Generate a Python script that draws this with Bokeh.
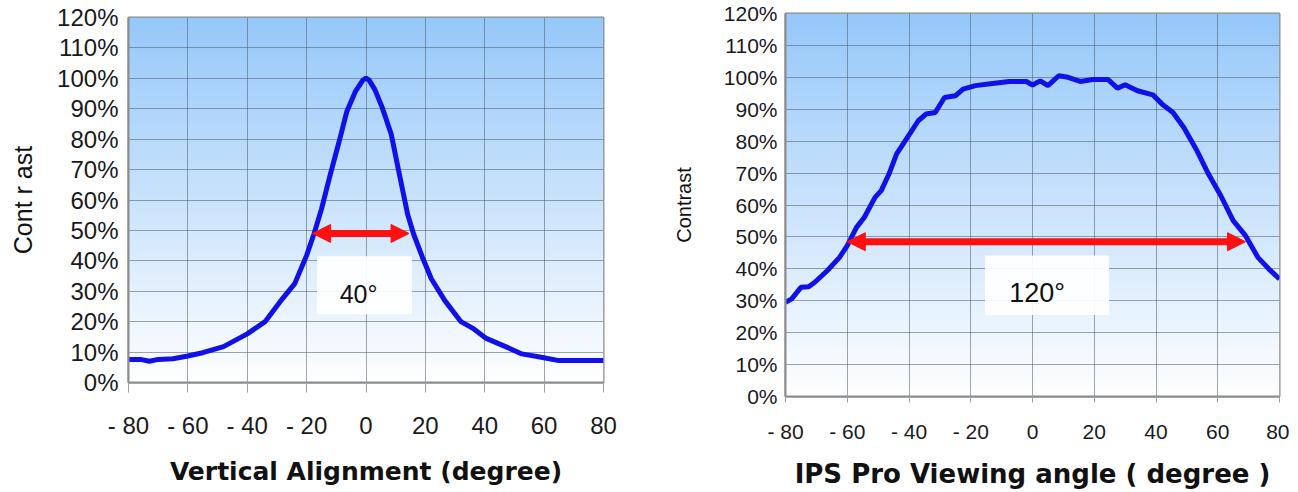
import numpy as np
from bokeh.plotting import figure
from bokeh.layouts import row, column
from bokeh.models import Range1d, FixedTicker, Arrow, NormalHead
from bokeh.embed import file_html
from bokeh.resources import INLINE
from bokeh.core.properties import value

# ---------------- data ----------------
va_angle = [-80, -76, -73, -70, -65, -60, -55, -48, -40, -34, -29, -24, -20, -17.5, -15,
            -12, -9, -6.5, -3.5, -1, 0, 1, 3, 5.5, 8.5, 11, 14, 16, 19, 22, 26.5, 32, 36,
            40.5, 47, 52.5, 59, 65, 70, 80]
va_contrast = [7.6, 7.6, 7.0, 7.6, 7.8, 8.7, 9.8, 11.8, 16.0, 20.0, 26.5, 32.5, 41.8, 48.9, 57.0,
               68.5, 79.4, 89.0, 95.8, 99.5, 100.0, 99.5, 96.3, 90.3, 81.6, 69.6, 55.4, 48.9, 41.2,
               34.1, 27.0, 20.0, 17.8, 14.5, 11.8, 9.4, 8.3, 7.2, 7.2, 7.2]

ips_angle = [-80, -78, -75, -72.5, -70.5, -66.5, -62.5, -60, -57, -54.5, -51, -49, -46.5, -44,
             -40.5, -37, -34.5, -31.5, -28.5, -25, -22.5, -18.5, -13, -7.5, -2, 0, 2.5, 5, 8.5,
             11.5, 15.5, 19.5, 24.5, 27.5, 30, 34, 39, 42, 45.5, 49, 53, 57, 61, 65, 69, 73,
             76.5, 80]
ips_contrast = [29.5, 30.6, 34.2, 34.4, 35.8, 39.4, 43.6, 47.3, 53.0, 56.1, 62.4, 64.5, 69.7, 76.0,
                81.2, 86.4, 88.5, 89.0, 93.7, 94.2, 96.3, 97.4, 98.1, 98.7, 98.7, 97.6, 98.9, 97.4,
                100.5, 100.0, 98.7, 99.3, 99.3, 96.6, 97.7, 95.8, 94.5, 91.6, 89.0, 84.3, 77.5, 69.7,
                62.9, 55.1, 50.4, 43.6, 40.0, 36.8]

x_ticks = [-80, -60, -40, -20, 0, 20, 40, 60, 80]
x_tick_labels = ["- 80", "- 60", "- 40", "- 20", "0", "20", "40", "60", "80"]
y_ticks = [0, 10, 20, 30, 40, 50, 60, 70, 80, 90, 100, 110, 120]
y_tick_labels = ["0%", "10%", "20%", "30%", "40%", "50%", "60%", "70%", "80%", "90%", "100%", "110%", "120%"]

# annotations: arrow (x_start, x_end, y), box (left, right, bottom, top), label (x, y, text)
va_arrow = [-18, 14.5, 49]
va_box = [-16.5, 15.5, 22.4, 41.5]
va_label = [-2.5, 29, "40°"]
ips_arrow = [-60, 69, 48.5]
ips_box = [-15.4, 24.8, 25.5, 44.2]
ips_label = [1.5, 32.3, "120°"]

# background gradient (style)
H = 240
t = np.linspace(0, 1, H)
top_c = np.array([150, 200, 250])
bot_c = np.array([255, 255, 255])
rgba = np.zeros((H, 1, 4), dtype=np.uint8)
for i in range(H):
    c = bot_c * (1 - t[i]) + top_c * t[i]
    rgba[i, 0, :3] = c.astype(np.uint8)
    rgba[i, 0, 3] = 255
grad = rgba.view(dtype=np.uint32).reshape((H, 1))

TICK_FONT = "Liberation Sans"
TITLE_FONT = "DejaVu Sans"


def make_panel(fw, fh, b_left, b_right, b_top, xs, ys, arrow, box, label,
               x_title, y_title, tick_size, ytitle_size, xtitle_size, tick_out,
               x_label_standoff, x_title_standoff, y_label_standoff, y_title_standoff,
               label_size, head):
    p = figure(frame_width=fw, frame_height=fh, output_backend="svg", toolbar_location=None,
               x_range=Range1d(-80, 80), y_range=Range1d(0, 120),
               min_border_left=b_left, min_border_right=b_right,
               min_border_top=b_top, min_border_bottom=5)
    p.background_fill_color = "white"
    p.border_fill_color = "white"
    p.outline_line_color = "#8c8c8c"
    p.outline_line_width = 2

    p.image_rgba(image=[grad], x=-80, y=0, dw=160, dh=120, level="image")

    p.xaxis.ticker = FixedTicker(ticks=x_ticks)
    p.yaxis.ticker = FixedTicker(ticks=y_ticks)
    p.xaxis.major_label_overrides = {k: v for k, v in zip(x_ticks, x_tick_labels)}
    p.yaxis.major_label_overrides = {k: v for k, v in zip(y_ticks, y_tick_labels)}

    for g in (p.xgrid, p.ygrid):
        g.grid_line_color = "#4f5d6b"
        g.grid_line_alpha = 0.55
        g.grid_line_width = 1

    for ax in (p.xaxis, p.yaxis):
        ax.axis_line_color = "#8c8c8c"
        ax.axis_line_width = 2
        ax.minor_tick_line_color = None
        ax.major_label_text_font = TICK_FONT
        ax.major_label_text_font_size = tick_size
        ax.major_label_text_color = "#1a1a1a"
        ax.axis_label_text_color = "#111111"
        ax.major_tick_in = 0

    p.xaxis.major_tick_out = tick_out
    p.xaxis.major_tick_line_color = "#a0a0a0"
    p.xaxis.major_label_standoff = x_label_standoff
    p.xaxis.axis_label = x_title
    p.xaxis.axis_label_text_font = TITLE_FONT
    p.xaxis.axis_label_text_font_style = "bold"
    p.xaxis.axis_label_text_font_size = xtitle_size
    p.xaxis.axis_label_standoff = x_title_standoff

    p.yaxis.major_tick_out = 0
    p.yaxis.major_tick_line_color = None
    p.yaxis.major_label_standoff = y_label_standoff
    p.yaxis.axis_label = y_title
    p.yaxis.axis_label_text_font = TICK_FONT
    p.yaxis.axis_label_text_font_style = "normal"
    p.yaxis.axis_label_text_font_size = ytitle_size
    p.yaxis.axis_label_standoff = y_title_standoff

    p.line(xs, ys, line_color="#1010e8", line_width=5)

    p.quad(left=[box[0]], right=[box[1]], bottom=[box[2]], top=[box[3]],
           fill_color="white", fill_alpha=0.93, line_color=None)
    p.text(x=[label[0]], y=[label[1]], text=[label[2]], text_font=value(TICK_FONT),
           text_font_size=label_size, text_align="center", text_baseline="middle",
           text_color="#111111")

    p.add_layout(Arrow(start=NormalHead(size=head, fill_color="#ff1010", line_color="#ff1010"),
                       end=NormalHead(size=head, fill_color="#ff1010", line_color="#ff1010"),
                       x_start=arrow[0], y_start=arrow[2], x_end=arrow[1], y_end=arrow[2],
                       line_color="#ff1010", line_width=7))
    return p


p1 = make_panel(475, 365, 128, 37, 17, va_angle, va_contrast, va_arrow, va_box, va_label,
                "Vertical Alignment (degree)", "Cont r ast", "24px", "25px", "25px", 10,
                19, 15, 10, 17, "25px", 18)
p2 = make_panel(494, 383, 145, 10, 13, ips_angle, ips_contrast, ips_arrow, ips_box, ips_label,
                "IPS Pro Viewing angle ( degree )", "Contrast", "21px", "20px", "26px", 6,
                17, 13, 8, 26, "27px", 18)

layout = row(column(p1), column(p2))
open("out.html", "w").write(file_html(layout, INLINE))
